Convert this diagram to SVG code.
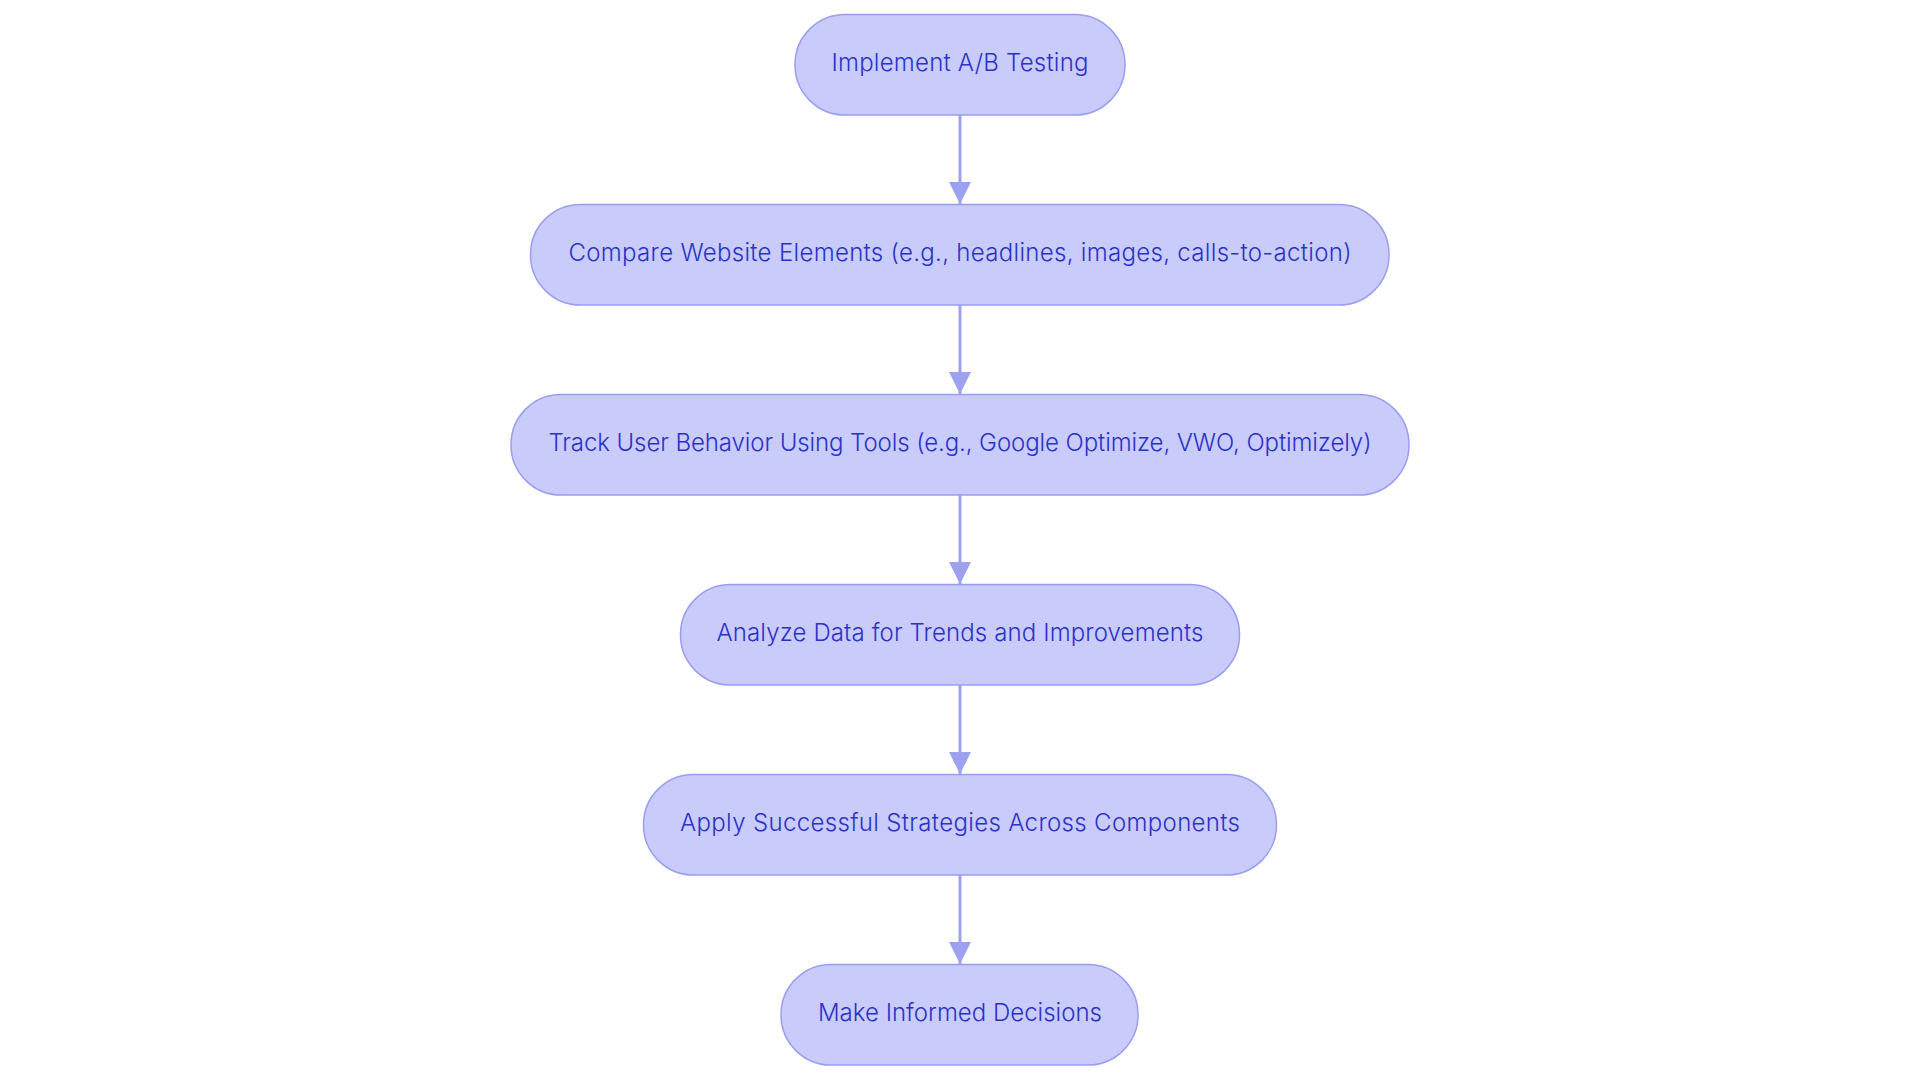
<svg xmlns="http://www.w3.org/2000/svg" width="1920" height="1083" viewBox="0 0 1920 1083">
<defs>
<style>
.node rect{fill:#c9cbfb;stroke:#9a9ef0;stroke-width:1.5}
.node text{font-family:Inter,"Noto Sans","Liberation Sans",sans-serif;font-size:24px;font-weight:300;fill:#2a32c8;text-anchor:middle;dominant-baseline:central}
.edge{stroke:#9ea1ef;stroke-width:3;fill:none}
</style>
<marker id="arr" viewBox="0 0 22 22" refX="22" refY="11" markerWidth="22" markerHeight="22" markerUnits="userSpaceOnUse" orient="auto">
<path d="M0,0 L22,11 L0,22 z" fill="#9ea1ef"/>
</marker>
</defs>
<rect width="1920" height="1083" fill="#ffffff"/>
<g id="connectors">
<line class="edge" x1="960" y1="115" x2="960" y2="204" marker-end="url(#arr)"/>
<line class="edge" x1="960" y1="305" x2="960" y2="394" marker-end="url(#arr)"/>
<line class="edge" x1="960" y1="495" x2="960" y2="584" marker-end="url(#arr)"/>
<line class="edge" x1="960" y1="685" x2="960" y2="774" marker-end="url(#arr)"/>
<line class="edge" x1="960" y1="875" x2="960" y2="964" marker-end="url(#arr)"/>
</g>
<g id="n1" class="node"><rect x="795" y="14.5" width="330" height="100.5" rx="50" ry="50"/><text x="960" y="62" textLength="257" lengthAdjust="spacing">Implement A/B Testing</text></g>
<g id="n2" class="node"><rect x="530.5" y="204.5" width="858.5" height="100.5" rx="50" ry="50"/><text x="960" y="252" textLength="783" lengthAdjust="spacing">Compare Website Elements (e.g., headlines, images, calls-to-action)</text></g>
<g id="n3" class="node"><rect x="511" y="394.5" width="898" height="100.5" rx="50" ry="50"/><text x="960" y="442" textLength="823" lengthAdjust="spacing">Track User Behavior Using Tools (e.g., Google Optimize, VWO, Optimizely)</text></g>
<g id="n4" class="node"><rect x="680.5" y="584.5" width="559" height="100.5" rx="50" ry="50"/><text x="960" y="632" textLength="487" lengthAdjust="spacing">Analyze Data for Trends and Improvements</text></g>
<g id="n5" class="node"><rect x="643.5" y="774.5" width="633" height="100.5" rx="50" ry="50"/><text x="960" y="822" textLength="560" lengthAdjust="spacing">Apply Successful Strategies Across Components</text></g>
<g id="n6" class="node"><rect x="781" y="964.5" width="357" height="100.5" rx="50" ry="50"/><text x="960" y="1012" textLength="284" lengthAdjust="spacing">Make Informed Decisions</text></g>
</svg>
